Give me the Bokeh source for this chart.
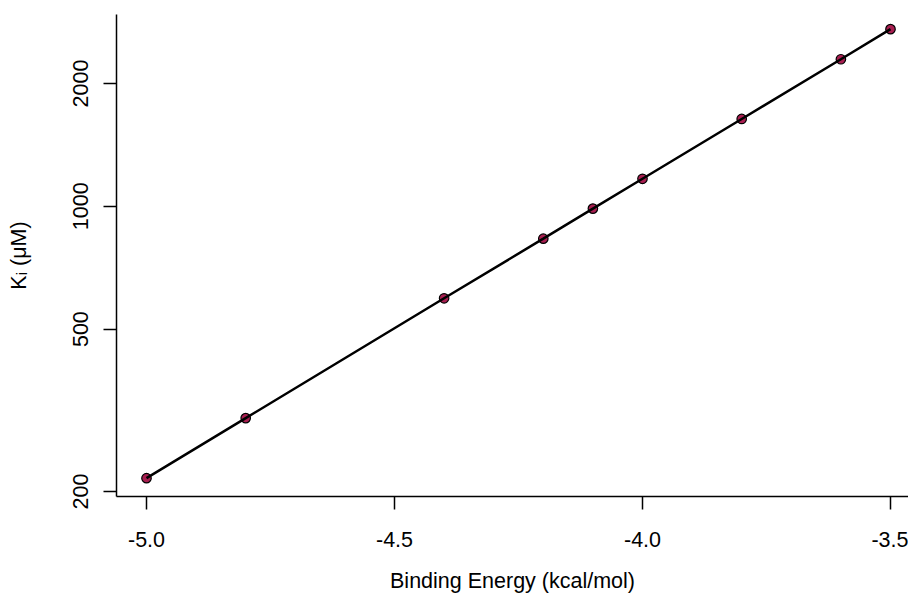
from bokeh.plotting import figure
from bokeh.models import FixedTicker, ColumnDataSource, Range1d
from bokeh.embed import file_html
from bokeh.resources import INLINE

# Data
binding_energy = [-5.0, -4.8, -4.4, -4.2, -4.1, -4.0, -3.8, -3.6, -3.5]
ki_um = [215.6, 302.6, 595.0, 833.0, 987.0, 1168.0, 1637.0, 2293.0, 2718.0]

x_ticks = [-5.0, -4.5, -4.0, -3.5]
x_tick_labels = ["-5.0", "-4.5", "-4.0", "-3.5"]
y_ticks = [200, 500, 1000, 2000]
y_tick_labels = ["200", "500", "1000", "2000"]

x_title = "Binding Energy (kcal/mol)"
y_title = "K\u1d62 (\u03bcM)"

FONT = "Liberation Sans"
FS = "21.5px"

X_LO, X_HI = -5.0605, -3.4637
Y_LO, Y_HI = 194.4, 2952.0

src = ColumnDataSource(dict(x=binding_energy, y=ki_um))

p = figure(width=908, height=600, y_axis_type="log",
           x_range=Range1d(X_LO, X_HI), y_range=Range1d(Y_LO, Y_HI),
           output_backend="svg", toolbar_location=None,
           min_border_left=116, min_border_top=14, min_border_right=0,
           min_border_bottom=104)
p.outline_line_color = None
p.grid.visible = False
p.background_fill_color = "white"
p.border_fill_color = "white"

p.scatter("x", "y", source=src, size=9.5, fill_color="#A81E50",
          line_color="black", line_width=1.2)
p.line("x", "y", source=src, line_color="black", line_width=2.5)

xa = p.xaxis[0]
xa.ticker = FixedTicker(ticks=x_ticks)
xa.major_label_overrides = {t: l for t, l in zip(x_ticks, x_tick_labels)}
xa.axis_label = x_title
ya = p.yaxis[0]
ya.ticker = FixedTicker(ticks=y_ticks)
ya.major_label_overrides = {t: l for t, l in zip(y_ticks, y_tick_labels)}
ya.axis_label = y_title
ya.major_label_orientation = "vertical"

for ax in (xa, ya):
    ax.axis_line_color = "black"
    ax.axis_line_width = 1.5
    ax.major_tick_line_color = "black"
    ax.major_tick_line_width = 1.5
    ax.major_tick_out = 13
    ax.major_tick_in = 0
    ax.minor_tick_line_color = None
    ax.major_label_text_font = FONT
    ax.major_label_text_font_size = FS
    ax.major_label_text_color = "black"
    ax.axis_label_text_font = FONT
    ax.axis_label_text_font_size = FS
    ax.axis_label_text_font_style = "normal"
    ax.axis_label_text_color = "black"

xa.major_label_standoff = 22
xa.axis_label_standoff = 19
ya.major_label_standoff = 15
ya.axis_label_standoff = 40

open("out.html", "w").write(file_html(p, INLINE))
